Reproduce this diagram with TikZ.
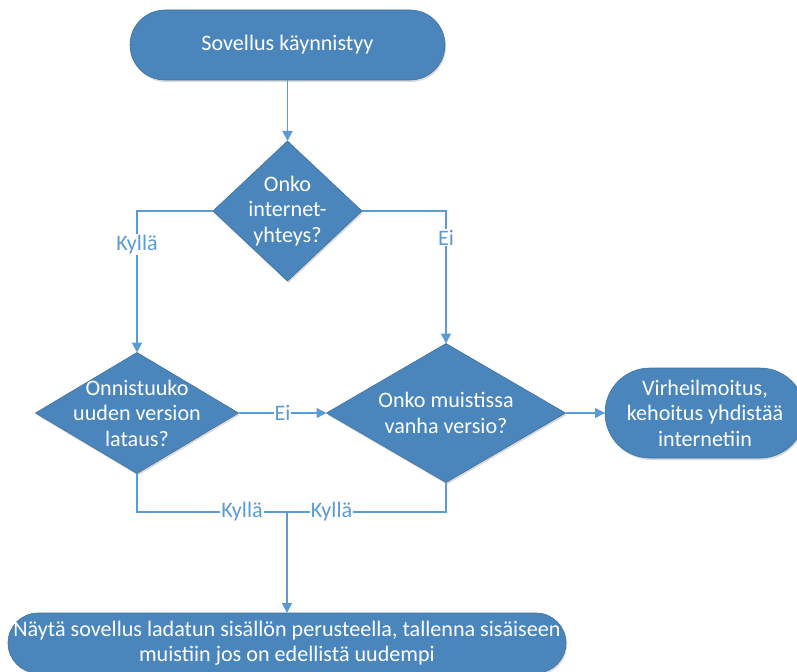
\documentclass[tikz,border=0pt]{standalone}
\usepackage{fontspec}
\setmainfont{Carlito}
\usetikzlibrary{arrows.meta,shapes.geometric,shadows}
\definecolor{shapefill}{HTML}{4A86BC}
\definecolor{shapeline}{HTML}{41719C}
\definecolor{conncol}{HTML}{5B9BD5}
\begin{document}
\begin{tikzpicture}[x=1bp,y=-1bp,
  basefont/.style={font=\fontsize{22.2}{25.5}\selectfont},
  shadowed/.style={drop shadow={shadow xshift=1bp,shadow yshift=-2bp,opacity=0.15,fill=black}},
  term/.style={draw=shapeline,line width=0.6bp,fill=shapefill,text=white,align=center,
    inner sep=0pt,outer sep=0pt,basefont,shadowed},
  decision/.style={shape=diamond,draw=shapeline,line width=0.6bp,fill=shapefill,
    inner sep=0pt,outer sep=0pt,shadowed},
  dtext/.style={text=white,align=center,inner sep=0pt,basefont},
  conn/.style={draw=conncol,line width=1.8bp,-{Triangle[length=10bp,width=10bp]}},
  plainconn/.style={draw=conncol,line width=1.8bp},
  lbl/.style={fill=white,text=conncol,inner sep=1bp,basefont}]
\useasboundingbox (0,0) rectangle (797,672);

\node[term,minimum width=315bp,minimum height=70bp,rounded corners=35bp] (start) at (287.5,45) {Sovellus käynnistyy};

\node[decision,minimum width=149bp,minimum height=140bp] (d1) at (287.5,211) {};
\node[dtext] (t1) at (d1) {Onko\\internet-\\yhteys?};

\node[decision,minimum width=203bp,minimum height=121bp] (d2) at (137,413) {};
\node[dtext] (t2) at (d2) {Onnistuuko\\uuden version\\lataus?};

\node[decision,minimum width=239bp,minimum height=139bp] (d3) at (446,413) {};
\node[dtext] (t3) at (d3) {Onko muistissa\\vanha versio?};

\node[term,minimum width=200bp,minimum height=90bp,rounded corners=45bp] (err) at (705,413) {Virheilmoitus,\\kehoitus yhdistää\\internetiin};

\node[term,minimum width=558bp,minimum height=60bp,rounded corners=30bp] (final) at (287,643) {Näytä sovellus ladatun sisällön perusteella, tallenna sisäiseen\\muistiin jos on edellistä uudempi};

\coordinate (join) at (287,512);

\draw[conn] (start.south) -- (d1.north);
\draw[conn] (d1.west) -| node[lbl,pos=0.62] (l1) {Kyllä} (d2.north);
\draw[conn] (d1.east) -| node[lbl,pos=0.6] (l2) {Ei} (d3.north);
\draw[conn] (d2.east) -- node[lbl] (l3) {Ei} (d3.west);
\draw[conn] (d3.east) -- (err.west);
\draw[plainconn] (d2.south) |- node[lbl,pos=0.85] (l4) {Kyllä} (join);
\draw[plainconn] (d3.south) |- node[lbl,pos=0.86] (l5) {Kyllä} (join);
\draw[conn] (join) -- (final.north);
\end{tikzpicture}
\end{document}
